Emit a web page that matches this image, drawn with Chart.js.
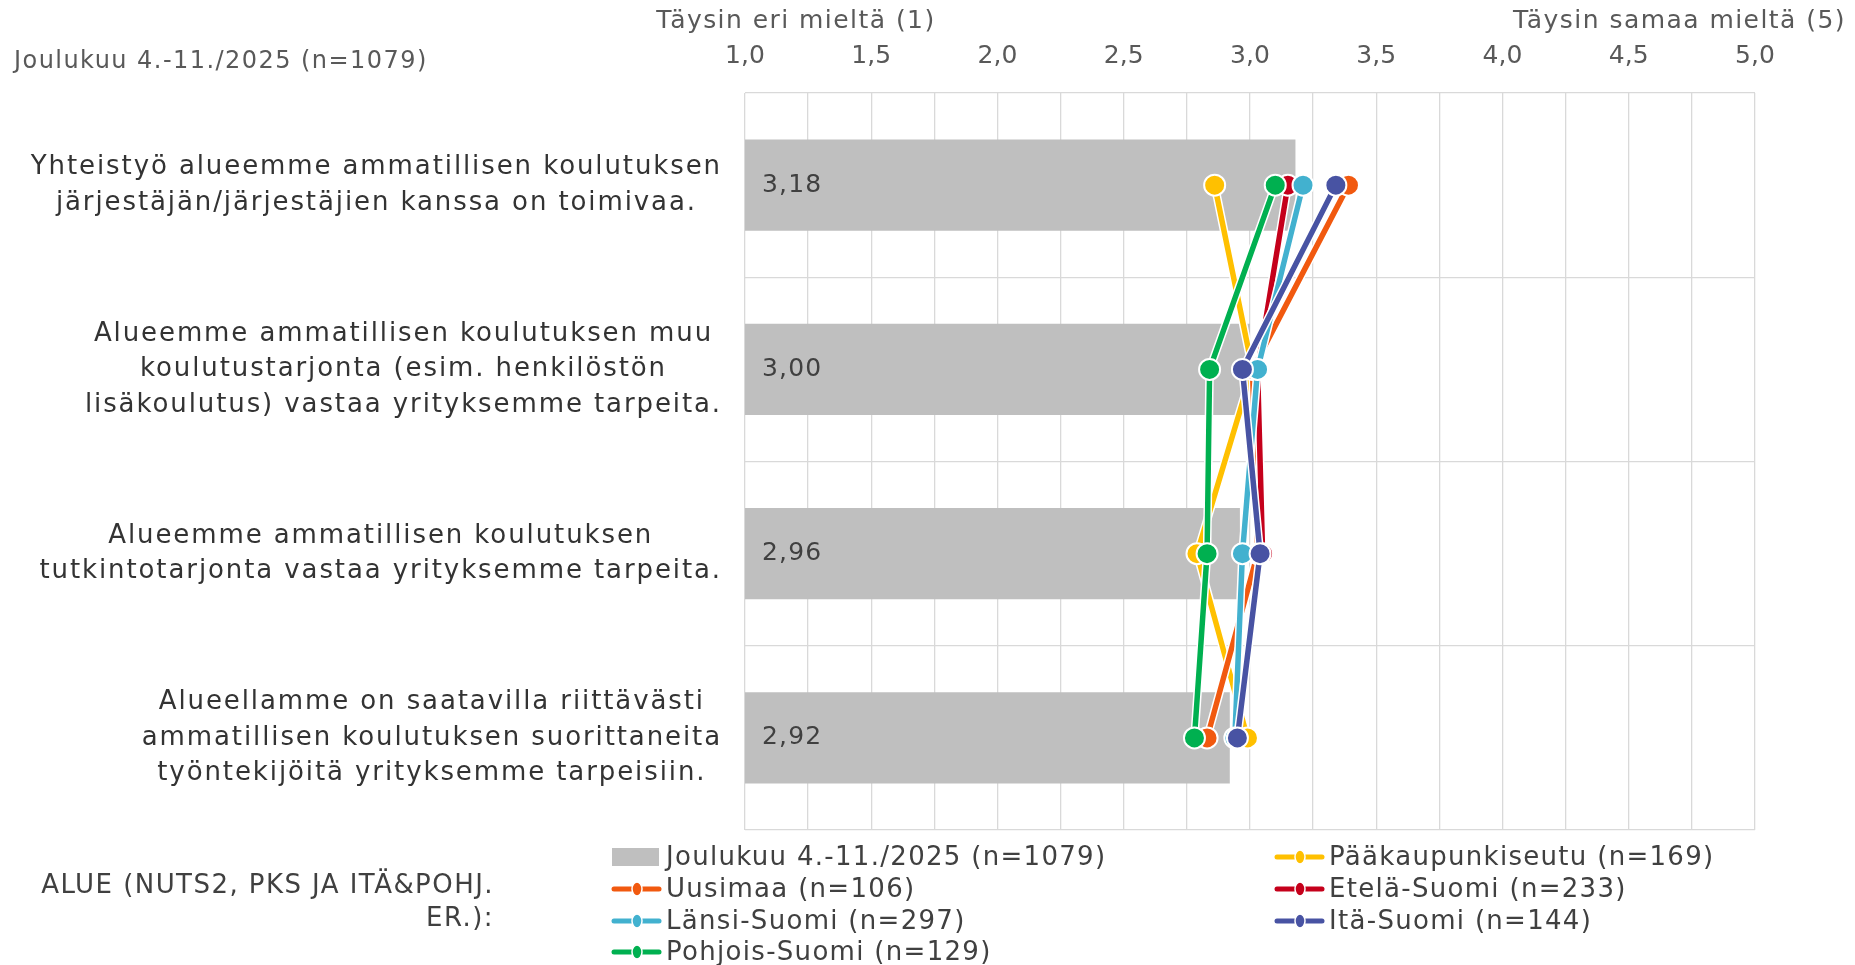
<!DOCTYPE html>
<html>
<head>
<meta charset="utf-8">
<script src="https://cdn.jsdelivr.net/npm/chart.js@4.4.1/dist/chart.umd.min.js"></script>
<style>
  html, body { margin: 0; padding: 0; background: #fff; }
  #wrap { width: 1855px; height: 965px; position: relative; }
</style>
</head>
<body>
<div id="wrap"><canvas id="c" width="1855" height="965"></canvas></div>
<script>
// ---- data ----
const categories = [
  ["Yhteistyö alueemme ammatillisen koulutuksen", "järjestäjän/järjestäjien kanssa on toimivaa."],
  ["Alueemme ammatillisen koulutuksen muu", "koulutustarjonta (esim. henkilöstön", "lisäkoulutus) vastaa yrityksemme tarpeita."],
  ["Alueemme ammatillisen koulutuksen", "tutkintotarjonta vastaa yrityksemme tarpeita."],
  ["Alueellamme on saatavilla riittävästi", "ammatillisen koulutuksen suorittaneita", "työntekijöitä yrityksemme tarpeisiin."]
];
const totalLabel = "Joulukuu 4.-11./2025 (n=1079)";
const totalValues = [3.18, 3.00, 2.96, 2.92];

const paakaupunkiseutu = [2.86, 3.01, 2.79, 2.99];
const uusimaa          = [3.39, 3.01, 3.03, 2.83];
const etelaSuomi       = [3.15, 3.03, 3.05, null];
const lansiSuomi       = [3.21, 3.03, 2.97, 2.94];
const itaSuomi         = [3.34, 2.97, 3.04, 2.95];
const pohjoisSuomi     = [3.10, 2.84, 2.83, 2.78];

const seriesLabels = [
  "Pääkaupunkiseutu (n=169)",
  "Uusimaa (n=106)",
  "Etelä-Suomi (n=233)",
  "Länsi-Suomi (n=297)",
  "Itä-Suomi (n=144)",
  "Pohjois-Suomi (n=129)"
];
const seriesColors = ["#FFC000", "#F1590F", "#C5001B", "#42B1CF", "#4853A3", "#00B050"];
const seriesData = [paakaupunkiseutu, uusimaa, etelaSuomi, lansiSuomi, itaSuomi, pohjoisSuomi];

const axisMin = 1, axisMax = 5, gridStep = 0.25, labelStep = 0.5;
const leftTitle = "Täysin eri mieltä (1)";
const rightTitle = "Täysin samaa mieltä (5)";
const groupTitle = ["ALUE (NUTS2, PKS JA ITÄ&POHJ.", "ER.):"];

const FONT = "'DejaVu Sans', Verdana, sans-serif";
const fmt = v => v.toFixed(2).replace('.', ',');

// ---- datasets ----
const datasets = [{
  type: 'bar',
  label: totalLabel,
  data: totalValues,
  backgroundColor: '#BFBFBF',
  borderWidth: 0,
  categoryPercentage: 1,
  barPercentage: 0.495,
  indexAxis: 'y',
  order: 20
}];
seriesLabels.forEach((lab, i) => {
  datasets.push({
    type: 'line',
    label: lab,
    data: seriesData[i],
    borderColor: seriesColors[i],
    backgroundColor: seriesColors[i],
    borderWidth: 5.5,
    pointRadius: 10.5,
    pointHoverRadius: 10.5,
    pointBorderColor: '#FFFFFF',
    pointBorderWidth: 2,
    pointBackgroundColor: seriesColors[i],
    tension: 0,
    spanGaps: false,
    indexAxis: 'y',
    order: 10 - i
  });
});

function setSpacing(ctx, px) {
  if ('letterSpacing' in ctx) ctx.letterSpacing = px + 'px';
}

// ---- plugins ----
const lineOutline = {
  id: 'lineOutline',
  beforeDatasetDraw(chart, args) {
    const ds = chart.data.datasets[args.index];
    if (ds.type !== 'line') return;
    const pts = args.meta.data;
    const ctx = chart.ctx;
    ctx.save();
    ctx.strokeStyle = '#FFFFFF';
    ctx.lineWidth = 8.5;
    ctx.lineJoin = 'round';
    ctx.beginPath();
    let started = false;
    pts.forEach(p => {
      if (p.skip) { started = false; return; }
      if (!started) { ctx.moveTo(p.x, p.y); started = true; }
      else ctx.lineTo(p.x, p.y);
    });
    ctx.stroke();
    ctx.restore();
  }
};

const barValues = {
  id: 'barValues',
  afterDatasetDraw(chart, args) {
    const ds = chart.data.datasets[args.index];
    if (ds.type !== 'bar') return;
    const ctx = chart.ctx;
    const xs = chart.scales.x;
    ctx.save();
    ctx.font = '25px ' + FONT;
    setSpacing(ctx, 1.2);
    ctx.fillStyle = '#404040';
    ctx.textAlign = 'left';
    ctx.textBaseline = 'middle';
    args.meta.data.forEach((bar, i) => {
      ctx.fillText(fmt(ds.data[i]), xs.left + 17, bar.y);
    });
    ctx.restore();
  }
};

const catLabels = {
  id: 'catLabels',
  afterDraw(chart) {
    const ctx = chart.ctx;
    const ys = chart.scales.y;
    const right = chart.scales.x.left - 23;
    const lh = 35.5;
    ctx.save();
    ctx.font = '26px ' + FONT;
    setSpacing(ctx, 1.9);
    ctx.fillStyle = '#333333';
    ctx.textAlign = 'center';
    ctx.textBaseline = 'middle';
    categories.forEach((lines, i) => {
      const y = ys.getPixelForValue(i);
      const w = Math.max(...lines.map(l => ctx.measureText(l).width));
      const cx = right - w / 2;
      const y0 = y - (lines.length - 1) * lh / 2;
      lines.forEach((l, k) => ctx.fillText(l, cx, y0 + k * lh));
    });
    ctx.restore();
  }
};

const extraText = {
  id: 'extraText',
  afterDraw(chart) {
    const ctx = chart.ctx;
    ctx.save();
    ctx.fillStyle = '#595959';
    ctx.textBaseline = 'middle';
    ctx.font = '25px ' + FONT;
    setSpacing(ctx, 1.45);
    ctx.textAlign = 'center';
    ctx.fillText(leftTitle, 796, 21);
    ctx.textAlign = 'right';
    ctx.fillText(rightTitle, 1846, 21);
    ctx.textAlign = 'left';
    ctx.font = '24px ' + FONT;
    setSpacing(ctx, 1.45);
    ctx.fillText(totalLabel, 14, 62);

    // group title
    ctx.fillStyle = '#404040';
    ctx.font = '26px ' + FONT;
    setSpacing(ctx, 1.45);
    ctx.textAlign = 'right';
    ctx.fillText(groupTitle[0], 494, 886);
    ctx.fillText(groupTitle[1], 494, 919);

    // legend
    const ds = chart.data.datasets;
    const colX = [612, 1275];
    const rowY = [857, 889, 921, 952];
    ctx.font = '26px ' + FONT;
    setSpacing(ctx, 1.3);
    ds.forEach((d, i) => {
      const col = i % 2, row = Math.floor(i / 2);
      const x = colX[col], y = rowY[row];
      if (d.type === 'bar') {
        ctx.fillStyle = d.backgroundColor;
        ctx.fillRect(x, y - 9, 47, 18);
      } else {
        ctx.strokeStyle = d.borderColor;
        ctx.lineWidth = 5;
        ctx.lineCap = 'round';
        ctx.beginPath();
        ctx.moveTo(x + 2, y);
        ctx.lineTo(x + 47, y);
        ctx.stroke();
        ctx.fillStyle = d.borderColor;
        ctx.strokeStyle = '#FFFFFF';
        ctx.lineWidth = 1.5;
        ctx.beginPath();
        ctx.ellipse(x + 25, y, 5, 7, 0, 0, Math.PI * 2);
        ctx.fill();
        ctx.stroke();
      }
      ctx.fillStyle = '#404040';
      ctx.textAlign = 'left';
      ctx.fillText(d.label, x + 54, y + 1);
    });
    ctx.restore();
  }
};

new Chart(document.getElementById('c'), {
  type: 'bar',
  data: { labels: categories.map(c => c.join(' ')), datasets },
  options: {
    indexAxis: 'y',
    responsive: false,
    animation: false,
    events: [],
    layout: { padding: { top: 0, right: 100, bottom: 135, left: 0 } },
    plugins: { legend: { display: false }, tooltip: { enabled: false } },
    scales: {
      x: {
        position: 'top',
        min: axisMin, max: axisMax,
        afterFit(s) { s.height = 93; },
        grid: { color: '#D9D9D9', lineWidth: 1.3, drawTicks: false },
        border: { display: false },
        afterBuildTicks(s) {
          const t = [];
          for (let v = axisMin; v <= axisMax + 1e-9; v += gridStep) t.push({ value: +v.toFixed(2) });
          s.ticks = t;
        },
        ticks: {
          autoSkip: false, maxRotation: 0, padding: 22,
          color: '#595959',
          font: { family: FONT, size: 25 },
          callback(v) {
            const r = v / labelStep;
            return Math.abs(r - Math.round(r)) < 1e-6 ? v.toFixed(1).replace('.', ',') : '';
          }
        }
      },
      y: {
        afterFit(s) { s.width = 745; },
        grid: { color: '#D9D9D9', lineWidth: 1.3, offset: true, drawTicks: false },
        border: { display: false },
        ticks: { display: false }
      }
    }
  },
  plugins: [lineOutline, barValues, catLabels, extraText]
});
</script>
</body>
</html>
